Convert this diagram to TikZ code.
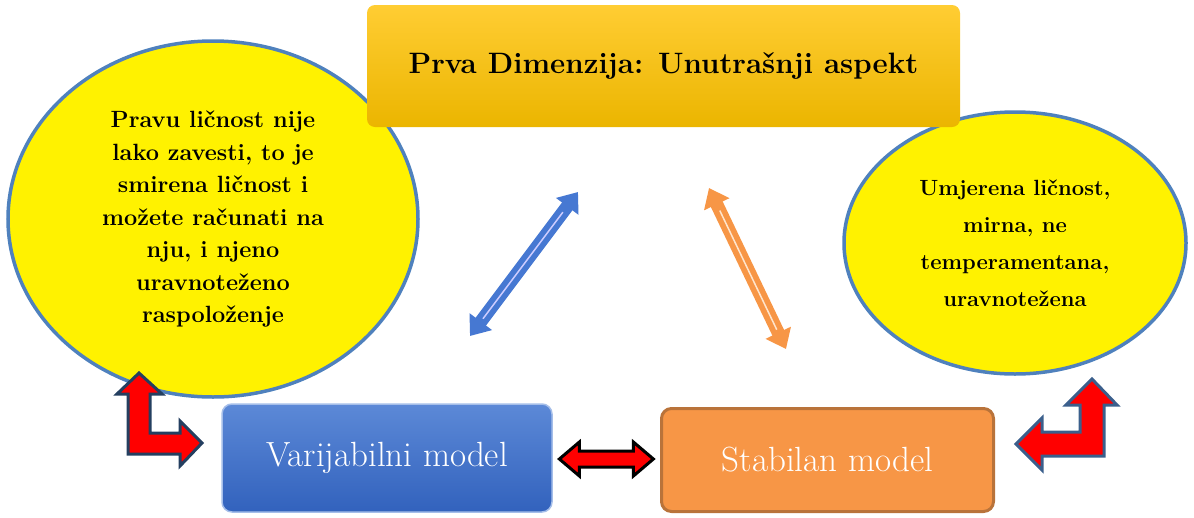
\documentclass[tikz,border=0pt]{standalone}
\usetikzlibrary{shapes.geometric,arrows.meta,calc}
\definecolor{goldtop}{HTML}{FFCD33}
\definecolor{goldbot}{HTML}{EBB500}
\definecolor{bluetop}{HTML}{5C89D7}
\definecolor{bluebot}{HTML}{3262BD}
\definecolor{blueshaft}{HTML}{4678D2}
\definecolor{orangefill}{HTML}{F79646}
\definecolor{orangeline}{HTML}{B9733A}
\definecolor{ringblue}{HTML}{4F81BD}
\definecolor{navy}{HTML}{243F60}
\definecolor{steel}{HTML}{3B5F8C}

\begin{document}
\begin{tikzpicture}[x=1pt,y=-1pt,
  trait/.style={ellipse, fill=yellow, draw=ringblue, line width=3.5pt, align=center, inner sep=0pt,
    font=\fontsize{23.5}{32.5}\selectfont\bfseries},
  modelbox/.style={rounded corners=10pt, minimum width=330pt, minimum height=108pt,
    font=\fontsize{35}{40}\selectfont, text=white},
  elbow/.style={fill=red, line width=3pt},
  link/.style={line width=13pt, {Triangle[length=18pt,width=27pt]}-{Triangle[length=18pt,width=27pt]}}]
\useasboundingbox (0,0) rectangle (1194,517);

  % the two descriptions
  \node[trait, minimum width=410pt, minimum height=356pt] (left) at (213,219)
    {Pravu ličnost nije\\lako zavesti, to je\\smirena ličnost i\\možete računati na\\nju, i njeno\\uravnoteženo\\raspoloženje};
  \node[trait, minimum width=342pt, minimum height=262pt, font=\fontsize{22}{37}\selectfont\bfseries] (right) at (1015,243)
    {Umjerena ličnost,\\mirna, ne\\temperamentana,\\uravnotežena};

  % dimension and models
  \node[rounded corners=8pt, top color=goldtop, bottom color=goldbot, minimum width=593pt, minimum height=122pt,
    font=\fontsize{29.5}{34}\selectfont\bfseries] (dim) at (663.5,66) {Prva Dimenzija: Unutrašnji aspekt};
  \node[modelbox, top color=bluetop, bottom color=bluebot, draw=bluetop!55!white, line width=1.5pt] (var) at (387,458) {Varijabilni model};
  \node[modelbox, fill=orangefill, draw=orangeline, line width=3pt, minimum width=332pt, minimum height=103pt] (stab) at (827.5,460) {Stabilan model};

  \coordinate (swap) at ($(var.east)!0.5!(stab.west)$);
  \begin{scope}[shift={(swap)}]
    \draw[fill=red, line width=3pt] (-47,0) -- (-27,-17) -- (-27,-8) -- (27,-8) -- (27,-17) -- (47,0)
      -- (27,17) -- (27,8) -- (-27,8) -- (-27,17) -- cycle;
  \end{scope}

  % diagonal links
  \coordinate (b1) at (470,336);
  \coordinate (b2) at (578,192);
  \coordinate (o1) at (709,188);
  \coordinate (o2) at (786,349);
  \draw[link, blueshaft] (b1) -- (b2);
  \draw[line width=1.5pt, blue!20!white] ($(b1)!0.12!(b2)$) -- ($(b1)!0.86!(b2)$);
  \draw[link, orangefill] (o1) -- (o2);
  \draw[line width=1.5pt, orange!20!white] ($(o1)!0.14!(o2)$) -- ($(o1)!0.88!(o2)$);

  % bent arrows
  \draw[elbow, draw=navy] (139,373) -- (162,394) -- (150,394) -- (150,433) -- (180,433) -- (180,421)
    -- (202,443) -- (180,466) -- (180,454) -- (128,454) -- (128,394) -- (117,394) -- cycle;
  \draw[elbow, draw=steel] (1092,379) -- (1117,405) -- (1104,405) -- (1104,456) -- (1042,456) -- (1042,470)
    -- (1016,444) -- (1042,418) -- (1042,432) -- (1080,432) -- (1080,405) -- (1066,405) -- cycle;
\end{tikzpicture}
\end{document}
